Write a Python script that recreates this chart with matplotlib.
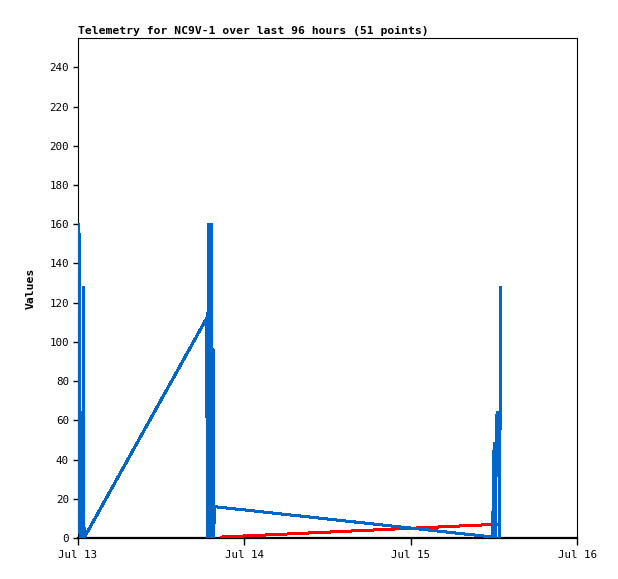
import numpy as np
import matplotlib
matplotlib.use("Agg")
import matplotlib.pyplot as plt

# hours since Jul 13 00:00 and the channel values
blue_hours = [0.14, 0.22, 0.29, 0.36, 0.50, 0.58, 0.72, 0.79, 0.87,
              18.55, 18.62, 18.70, 18.78, 18.93, 19.03, 19.14, 19.21, 19.32, 19.39, 19.50, 19.60, 19.65,
              59.82, 60.04, 60.18, 60.35, 60.47, 60.59, 60.68, 60.83, 60.97]
blue_vals = [160, 88, 0, 64, 0, 64, 0, 128, 0,
             112, 56, 0, 160, 72, 160, 0, 160, 48, 0, 96, 0, 16,
             0.5, 48, 0, 56, 64, 32, 64, 0, 128]

red_hours = [20.76, 60.44]
red_vals = [0.5, 7]

black_hours = [0.14, 20.76]
black_vals = [0, 0]

tick_hours = [0, 24, 48, 72]
tick_labels = ["Jul 13", "Jul 14", "Jul 15", "Jul 16"]
ytick_vals = list(range(0, 241, 20))

mono = "DejaVu Sans Mono"

fig = plt.figure(figsize=(6.18, 5.79), dpi=100)
ax = fig.add_axes([78 / 618, 41 / 579, 499 / 618, 500 / 579])

ax.plot(black_hours, black_vals, color="black", lw=1.44, zorder=2, antialiased=False)
ax.plot(red_hours, red_vals, color="#ff0000", lw=1.44, zorder=3, antialiased=False)
ax.plot(blue_hours, blue_vals, color="#0066cc", lw=1.44, zorder=4, antialiased=False)

ax.set_xlim(0, 72)
ax.set_ylim(0, 255)
ax.set_xticks(tick_hours)
ax.set_xticklabels(tick_labels, fontfamily=mono, fontsize=7.8)
ax.set_yticks(ytick_vals)
ax.set_yticklabels([str(v) for v in ytick_vals], fontfamily=mono, fontsize=7.8)
ax.tick_params(axis="x", direction="out", length=5, width=1, pad=4)
ax.tick_params(axis="y", direction="out", length=3.6, width=1, pad=3)

for side in ["top", "right", "left"]:
    ax.spines[side].set_linewidth(0.8)
ax.spines["bottom"].set_linewidth(1.6)

ax.set_ylabel("Values", fontfamily=mono, fontsize=8.2, fontweight="bold", labelpad=10)
ax.set_title("Telemetry for NC9V-1 over last 96 hours (51 points)", loc="left",
             fontfamily=mono, fontsize=8.2, fontweight="bold", pad=3)

fig.savefig("out.png", dpi=100)
